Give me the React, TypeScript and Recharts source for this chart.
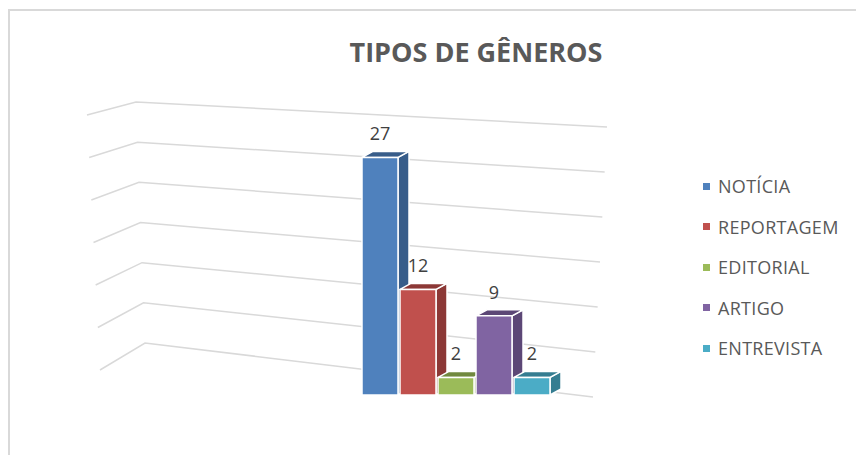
import { BarChart, Bar, XAxis, YAxis, CartesianGrid, LabelList } from 'recharts'

const GENEROS = ['NOTÍCIA', 'REPORTAGEM', 'EDITORIAL', 'ARTIGO', 'ENTREVISTA']
const QUANTIDADES = [27, 12, 2, 9, 2]
const Y_TICKS = [0, 5, 10, 15, 20, 25, 30]

const CORES = ['#4f81bd', '#c0504d', '#9bbb59', '#8064a2', '#4bacc6']
const CORES_ESCURAS = ['#385d8a', '#8c3836', '#71893f', '#5c4776', '#357d91']
const GRID = '#d9d9d9'
const TEXTO = '#595959'
const FONTE = '"Open Sans", sans-serif'

// uma linha só: cada gênero vira uma série (coluna agrupada, como no Excel)
const row: Record<string, any> = { name: 'Gêneros' }
GENEROS.forEach((g, i) => { row[g] = QUANTIDADES[i] })
const data = [row]

// profundidade do "3D"
const DX = 11
const DY = 6

function Caixa3D({ x, y, width, height, fill, escura }: any) {
  if (!height) return null
  const w = width
  const h = height
  const top = `${x},${y} ${x + DX},${y - DY} ${x + w + DX},${y - DY} ${x + w},${y}`
  const side = `${x + w},${y} ${x + w + DX},${y - DY} ${x + w + DX},${y + h - DY} ${x + w},${y + h}`
  return (
    <g stroke="#fff" strokeWidth={1.5} strokeLinejoin="round">
      <polygon points={side} fill={escura} />
      <polygon points={top} fill={escura} />
      <rect x={x} y={y} width={w} height={h} fill={fill} />
    </g>
  )
}

// linhas de grade em "perspectiva": parede do fundo + piso lateral
function LinhaGrade(p: any) {
  const t = p.height ? (p.y1 - p.y) / p.height : 0
  const cx = p.x1 + 9 * t
  const cy = p.y1 - 29 - 23 * t
  const sx = cx - 49 + 4 * t
  const sy = cy + 13 + 14 * t
  const ex = p.x2 - 14 * t
  const ey = p.y2 - 4 + 6 * t
  return (
    <polyline key={p.key} points={`${sx},${sy} ${cx},${cy} ${ex},${ey}`}
      fill="none" stroke={GRID} strokeWidth={1.5} />
  )
}

export default function App() {
  return (
    <div style={{
      position: 'absolute', left: 8, top: 9, width: 900, height: 500,
      borderTop: `2px solid ${GRID}`, borderLeft: `2px solid ${GRID}`, background: '#fff',
      fontFamily: FONTE,
    }}>
      <div style={{
        position: 'absolute', left: 466, top: 22, transform: 'translateX(-50%)',
        fontSize: 27, fontWeight: 700, color: TEXTO, whiteSpace: 'nowrap',
      }}>TIPOS DE GÊNEROS</div>

      <BarChart width={846} height={444} data={data}
        margin={{ top: 120, right: 249, left: 126, bottom: 60 }}
        barCategoryGap={0} barGap={2}>
        <CartesianGrid vertical={false} horizontal={LinhaGrade} />
        <XAxis dataKey="name" hide padding={{ left: 226, right: 59 }} />
        <YAxis hide domain={[0, 30]} ticks={Y_TICKS} />
        {GENEROS.map((g, i) => (
          <Bar key={g} dataKey={g} fill={CORES[i]} isAnimationActive={false}
            shape={(p: any) => <Caixa3D {...p} escura={CORES_ESCURAS[i]} />}>
            <LabelList dataKey={g} position="top" offset={17}
              style={{ fill: '#404040', fontSize: 18, fontFamily: FONTE }} />
          </Bar>
        ))}
      </BarChart>

      <div style={{ position: 'absolute', left: 693, top: 155 }}>
        {GENEROS.map((g, i) => (
          <div key={g} style={{ display: 'flex', alignItems: 'center', height: 40.5 }}>
            <span style={{ width: 7, height: 7, background: CORES[i], display: 'inline-block', marginRight: 8 }} />
            <span style={{ fontSize: 18, color: TEXTO, letterSpacing: 0.3 }}>{g}</span>
          </div>
        ))}
      </div>
    </div>
  )
}
